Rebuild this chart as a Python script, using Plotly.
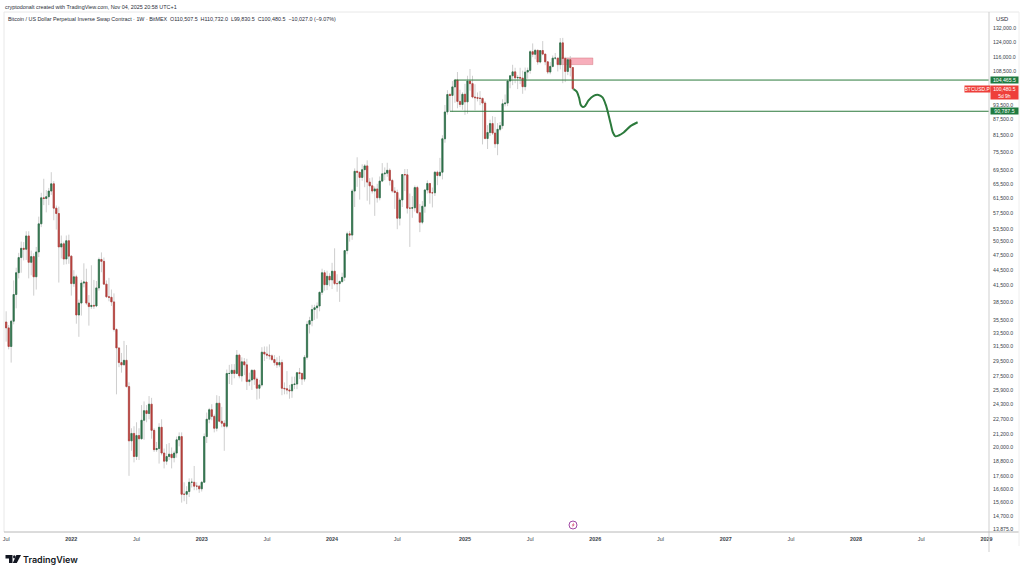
import math
import pandas as pd
import plotly.graph_objects as go

W, H = 1024, 572
L_PX, R_PX, T_PX, B_PX = 4, 989, 12, 532

first_open = 35170
first_week = "2021-07-05"

# weekly closes, Jul 2021 to Nov 2025
closes = [
    34250, 31500, 35300, 39800, 43900, 47000, 49000, 48800, 51800, 46000, 47200, 43100, 48200, 54700, 61500, 61300,
    61800, 63400, 65500, 58700, 57300, 49300, 50000, 46700, 50700, 47300, 41800, 43100, 36300, 38300, 41900, 42100,
    38300, 37700, 37900, 37800, 41000, 46600, 46200, 41700, 39400, 39300, 38500, 34000, 31300, 29300, 29000, 29600,
    26300, 20600, 21300, 19200, 21100, 20800, 22600, 23600, 23300, 24300, 21600, 19800, 19900, 21900, 19500, 18800,
    19200, 19400, 19100, 19500, 20700, 21000, 16200, 16200, 16400, 17100, 17100, 16800, 16800, 16600, 17100, 21000,
    22700, 23700, 23000, 21800, 24400, 22500, 22300, 22000, 27900, 27900, 28300, 27900, 30300, 27600, 29400, 29000,
    26900, 27100, 28300, 27200, 26100, 26500, 30700, 30450, 30300, 30200, 29700, 29300, 29000, 29300, 26100, 26050,
    25900, 25800, 26550, 26600, 28000, 27900, 27200, 30000, 34800, 35400, 37200, 37500, 37800, 40200, 43900, 41600,
    43200, 42500, 44200, 41800, 41800, 42200, 43000, 48500, 52300, 52000, 63400, 69300, 69000, 67400, 69800, 71000,
    66000, 64900, 63400, 64000, 61500, 66300, 68500, 68700, 69600, 66500, 63400, 63000, 56100, 60900, 68300, 68200,
    58700, 58700, 58800, 64400, 57500, 55100, 59200, 63700, 65600, 62900, 62900, 69000, 68000, 69000, 80200, 90500,
    97900, 97500, 101300, 104500, 94900, 93600, 98000, 94700, 104000, 102800, 96800, 96500, 96300, 96200, 94200, 80300,
    82500, 85900, 82300, 78400, 83700, 85100, 93900, 94200, 104000, 106500, 108400, 105500, 105700, 105400, 101400, 108300,
    109100, 118700, 117300, 119400, 113300, 119300, 117400, 113400, 108300, 111100, 115300, 115300, 112000, 123500, 115100, 108600,
    114500, 110507.5, 100480.5,
]
highs = [
    36900, 34700, 35500, 42400, 44900, 48000, 50500, 50400, 52900, 52900, 48500, 47900, 49300, 56500, 62900, 67000,
    63700, 64300, 69000, 66300, 59400, 59100, 51900, 50500, 51900, 52100, 47500, 44400, 43500, 38900, 42500, 45800,
    44700, 39700, 45400, 42500, 42300, 47000, 48100, 47000, 42400, 42900, 40700, 40000, 34200, 31300, 30600, 32300,
    31700, 26800, 21800, 22000, 22400, 21800, 24200, 24600, 24200, 25200, 25000, 21800, 20500, 22300, 22700, 19900,
    20300, 20400, 20000, 19700, 21000, 21400, 21400, 17100, 16800, 17400, 17400, 18400, 17100, 16900, 17200, 21300,
    23400, 23900, 24300, 23200, 25300, 25200, 24000, 22600, 28400, 29000, 29100, 29100, 31000, 30500, 30000, 29900,
    29800, 28000, 28400, 28400, 27400, 27100, 31400, 31500, 31500, 31800, 30400, 30300, 30000, 30200, 29700, 26800,
    28200, 26500, 27500, 27500, 28100, 28600, 28000, 30300, 35300, 36000, 38000, 38000, 38400, 40300, 44700, 44400,
    44300, 43800, 45900, 49000, 43600, 42400, 43900, 48600, 52800, 53000, 64000, 70200, 73800, 68900, 71500, 71600,
    72800, 67200, 67400, 64700, 65500, 67700, 71900, 70500, 72000, 70200, 67000, 64500, 63800, 61500, 68400, 70000,
    70000, 62700, 62000, 65000, 64900, 59800, 60600, 64000, 66500, 65500, 64400, 69400, 69500, 73600, 81500, 93400,
    99800, 98600, 104000, 105000, 108300, 100000, 98900, 102700, 106500, 109800, 106500, 102500, 98800, 99400, 96500, 95000,
    85300, 87400, 88800, 88500, 86100, 86500, 95800, 97900, 104300, 106800, 111900, 110400, 106800, 110400, 109000, 110500,
    110500, 119500, 123200, 120200, 119900, 119400, 124500, 117600, 113600, 113300, 116700, 118000, 115500, 126200, 126300, 116000,
    115500, 116400, 110732,
]
lows = [
    32200, 31100, 29300, 34800, 37400, 42800, 43900, 46400, 46500, 42800, 43400, 39600, 40700, 47100, 53900, 59500,
    57600, 59500, 62300, 55600, 53300, 42000, 46800, 45500, 45600, 45700, 39600, 41200, 34900, 32900, 36200, 41100,
    38000, 34600, 37300, 37300, 37600, 40500, 44000, 41600, 39200, 38600, 37800, 33700, 25400, 28700, 28000, 29300,
    26200, 17600, 19700, 18700, 18900, 18900, 20700, 20700, 22400, 22700, 20800, 19600, 19600, 18600, 19300, 18200,
    18500, 18900, 18200, 18700, 19100, 20100, 15600, 15700, 15500, 16000, 16700, 16500, 16500, 16300, 16400, 17100,
    20400, 22300, 22600, 21400, 21500, 22400, 21900, 19700, 21800, 26600, 26500, 27300, 27800, 27300, 26900, 27700,
    25900, 26400, 25900, 26500, 24800, 24900, 26300, 29500, 29800, 29700, 29500, 28900, 28600, 28700, 25300, 25400,
    25400, 24900, 25000, 26000, 26000, 27200, 26500, 26900, 29700, 33400, 34500, 35500, 35700, 36900, 39700, 40500,
    40600, 41300, 40800, 41500, 40300, 38500, 41900, 42300, 47700, 50500, 50900, 59000, 64600, 61000, 66400, 64500,
    60700, 59700, 62700, 56700, 60200, 60800, 66000, 66600, 67600, 65000, 62900, 58500, 53400, 54300, 59000, 63400,
    57300, 49300, 56200, 57800, 57300, 52700, 54600, 57500, 62700, 59900, 58900, 62000, 65100, 67500, 66800, 78800,
    89400, 90700, 90500, 94300, 92000, 92500, 91400, 89300, 89800, 99600, 96200, 91200, 94900, 93300, 78200, 80000,
    76600, 81200, 81600, 77000, 74500, 83000, 83900, 92800, 92900, 100700, 102100, 103000, 100300, 102600, 98200, 99700,
    105100, 107500, 115800, 114700, 111900, 112600, 116800, 111700, 107300, 107200, 110600, 114500, 108600, 109600, 103000, 103500,
    106800, 106200, 99830.5,
]

# hand drawn projection after the last candle
path_dates = ["2025-11-05", "2025-11-14", "2025-11-21", "2025-11-25", "2025-12-01", "2025-12-08", "2025-12-17",
              "2025-12-31", "2026-01-14", "2026-01-25", "2026-02-03", "2026-02-11", "2026-02-17", "2026-02-23",
              "2026-03-02", "2026-03-11", "2026-03-25", "2026-04-13", "2026-05-03"]
path_prices = [100300, 99200, 96200, 93500, 92500, 93100, 95300, 97300, 97700, 96600, 93500, 89200, 85700, 82500,
               81100, 81400, 82500, 84900, 86400]

level_upper = 104465.5
level_lower = 90787.5
last_close = 100480.5

y_ticks = [132000, 124000, 116000, 108500, 93500, 87500, 81500, 75500, 69500, 65500, 61500, 57500, 53500, 50500,
           47500, 44500, 41500, 38500, 35500, 33500, 31500, 29500, 27500, 25900, 24300, 22700, 21200, 20000, 18800,
           17600, 16600, 15600, 14700, 13875]
x_tick_dates = ["2021-07-05", "2022-01-03", "2022-07-04", "2023-01-02", "2023-07-03", "2024-01-01", "2024-07-01",
                "2025-01-06", "2025-07-07", "2026-01-05", "2026-07-06", "2027-01-04", "2027-07-05", "2028-01-03",
                "2028-07-03", "2029-01-01"]
x_tick_text = ["Jul", "<b>2022</b>", "Jul", "<b>2023</b>", "Jul", "<b>2024</b>", "Jul", "<b>2025</b>", "Jul",
               "<b>2026</b>", "Jul", "<b>2027</b>", "Jul", "<b>2028</b>", "Jul", "<b>2029</b>"]

GREEN = "#2d7049"
RED = "#b53d3a"
WICK = "#b9b9b9"
LINE_GREEN = "#2c7a3c"
TAG_GREEN = "#1f7a40"
TEXT = "#2a2e39"
FONT = "Liberation Sans"

assert len(closes) == len(highs) == len(lows)
weeks = pd.date_range(first_week, periods=len(closes), freq="7D")
opens = [first_open] + closes[:-1]
body_top = [max(o, c) for o, c in zip(opens, closes)]
body_bot = [min(o, c) for o, c in zip(opens, closes)]


def px_x(x):
    return (x - L_PX) / (R_PX - L_PX)


def px_y(y):
    return (B_PX - y) / (B_PX - T_PX)


fig = go.Figure()

# wicks first, bodies on top so the wicks can stay pale
fig.add_trace(go.Candlestick(
    x=weeks, open=opens, high=highs, low=lows, close=closes,
    increasing=dict(line=dict(color=WICK, width=0.7), fillcolor="rgba(0,0,0,0)"),
    decreasing=dict(line=dict(color=WICK, width=0.7), fillcolor="rgba(0,0,0,0)"),
    whiskerwidth=0, hoverinfo="skip", showlegend=False,
))
fig.add_trace(go.Candlestick(
    x=weeks, open=opens, high=body_top, low=body_bot, close=closes,
    increasing=dict(line=dict(color=GREEN, width=0.7), fillcolor=GREEN),
    decreasing=dict(line=dict(color=RED, width=0.7), fillcolor=RED),
    whiskerwidth=0, hoverinfo="skip", showlegend=False,
))
fig.add_trace(go.Scatter(
    x=path_dates, y=path_prices, mode="lines",
    line=dict(color=LINE_GREEN, width=2, shape="spline", smoothing=0.8),
    hoverinfo="skip", showlegend=False,
))

# pink supply box
fig.add_shape(type="rect", x0="2025-09-24", x1="2025-12-29", y0=112000, y1=115400, yref="y", xref="x",
              fillcolor="rgba(242,130,150,0.65)", line=dict(color="rgba(200,80,90,0.6)", width=0.6), layer="below")
# levels
fig.add_shape(type="line", x0="2024-12-09", x1="2029-01-08", xref="x", y0=level_upper, y1=level_upper, yref="y",
              line=dict(color=LINE_GREEN, width=1))
fig.add_shape(type="line", x0="2024-11-25", x1="2029-01-08", xref="x", y0=level_lower, y1=level_lower, yref="y",
              line=dict(color=LINE_GREEN, width=1))

# frame and axes lines, in pixels of the page
frame = [
    (L_PX, T_PX, 1019, T_PX, "#e8e8e8"),
    (L_PX, T_PX, L_PX, B_PX, "#e8e8e8"),
    (R_PX, T_PX, R_PX, 552, "#cfcfcf"),
    (L_PX, B_PX, 1019, B_PX, "#b8b8b8"),
    (1019, T_PX, 1019, 546, "#eeeeee"),
]
for x0, y0, x1, y1, col in frame:
    fig.add_shape(type="line", xref="paper", yref="paper", x0=px_x(x0), x1=px_x(x1), y0=px_y(y0), y1=px_y(y1),
                  line=dict(color=col, width=1))

# small event icon on the time axis
fig.add_shape(type="circle", xref="paper", yref="paper", x0=px_x(569), x1=px_x(577), y0=px_y(521), y1=px_y(529),
              line=dict(color="#a24aa6", width=1), fillcolor="white")
fig.add_shape(type="path", xref="paper", yref="paper", fillcolor="#d9607f", line=dict(width=0),
              path="M %f,%f L %f,%f L %f,%f L %f,%f L %f,%f L %f,%f Z" % (
                  px_x(574.2), px_y(522.2), px_x(571.6), px_y(525.4), px_x(573), px_y(525.4),
                  px_x(572), px_y(527.8), px_x(574.8), px_y(524.6), px_x(573.4), px_y(524.6)))

# TradingView mark
fig.add_shape(type="path", xref="paper", yref="paper", fillcolor="#131722", line=dict(width=0),
              path="M %f,%f L %f,%f L %f,%f L %f,%f L %f,%f L %f,%f Z" % (
                  px_x(5.5), px_y(555), px_x(12.5), px_y(555), px_x(12.5), px_y(563), px_x(9), px_y(563),
                  px_x(9), px_y(558.5), px_x(5.5), px_y(558.5)))
fig.add_shape(type="circle", xref="paper", yref="paper", fillcolor="#131722", line=dict(width=0),
              x0=px_x(13), x1=px_x(15.6), y0=px_y(558.4), y1=px_y(555.2))
fig.add_shape(type="path", xref="paper", yref="paper", fillcolor="#131722", line=dict(width=0),
              path="M %f,%f L %f,%f L %f,%f L %f,%f Z" % (
                  px_x(16.4), px_y(555), px_x(21), px_y(555), px_x(16.8), px_y(563), px_x(12.8), px_y(563)))


def note(text, x, y, size=5.6, color=TEXT, anchor="left", **kw):
    fig.add_annotation(text=text, xref="paper", yref="paper", x=px_x(x), y=px_y(y), xanchor=anchor, yanchor="middle",
                       showarrow=False, font=dict(family=FONT, size=size, color=color), **kw)


def tag(text, value, color, x0=990, width=27, height=6):
    fig.add_annotation(text=text, xref="paper", yref="y", x=px_x(x0), y=math.log10(value), xanchor="left",
                       yanchor="middle", showarrow=False, width=width, height=height, bgcolor=color, borderpad=0,
                       align="center", font=dict(family=FONT, size=5.2, color="white"))


note("cryptodonalt created with TradingView.com, Nov 04, 2025 20:58 UTC+1", 3, 7, size=5.42)
note("Bitcoin / US Dollar Perpetual Inverse Swap Contract · 1W · BitMEX  O110,507.5  H110,732.0  L99,830.5  "
     "C100,480.5  −10,027.0 (−9.07%)", 6, 19, size=5.37)
note("USD", 994, 19.5, size=5.8)
fig.add_annotation(text="TradingView", xref="paper", yref="paper", x=px_x(21), y=px_y(559), xanchor="left",
                   yanchor="middle", showarrow=False, font=dict(family="Inter", size=9, color="#131722", weight=600))

tag("104,465.5", level_upper, TAG_GREEN)
tag("90,787.5", level_lower, TAG_GREEN)
fig.add_annotation(text="100,480.5<br>5d 9h", xref="paper", yref="paper", x=px_x(990), y=px_y(92), xanchor="left",
                   yanchor="middle", showarrow=False, width=27, height=12.5, bgcolor="#ee3f3a", borderpad=0,
                   font=dict(family=FONT, size=5, color="white"))
fig.add_annotation(text="BTCUSD.P", xref="paper", yref="paper", x=px_x(964), y=px_y(89), xanchor="left",
                   yanchor="middle", showarrow=False, width=25, height=6, bgcolor="#ee3f3a", borderpad=0,
                   font=dict(family=FONT, size=5, color="white"))

fig.update_layout(
    width=W, height=H, margin=dict(l=L_PX, r=W - R_PX, t=T_PX, b=H - B_PX),
    paper_bgcolor="white", plot_bgcolor="white", showlegend=False,
    xaxis=dict(type="date", range=["2021-06-29", "2029-01-08"], rangeslider=dict(visible=False), showgrid=False,
               zeroline=False, showline=False, ticks="", tickmode="array", tickvals=x_tick_dates,
               ticktext=x_tick_text, tickangle=0, ticklabelstandoff=3,
               tickfont=dict(family=FONT, size=5.4, color="#3a3f4a")),
    yaxis=dict(type="log", side="right", range=[math.log10(13670), math.log10(141900)], showgrid=False,
               zeroline=False, showline=False, ticks="", tickmode="array", tickvals=y_ticks, ticklabelstandoff=3,
               ticktext=[f"{v:,.1f}" for v in y_ticks], tickfont=dict(family=FONT, size=5.2, color="#3a3f4a"),
               automargin=False),
)

fig.write_html("out.html", config={"displayModeBar": False}, post_script="document.body.style.margin='0';")
